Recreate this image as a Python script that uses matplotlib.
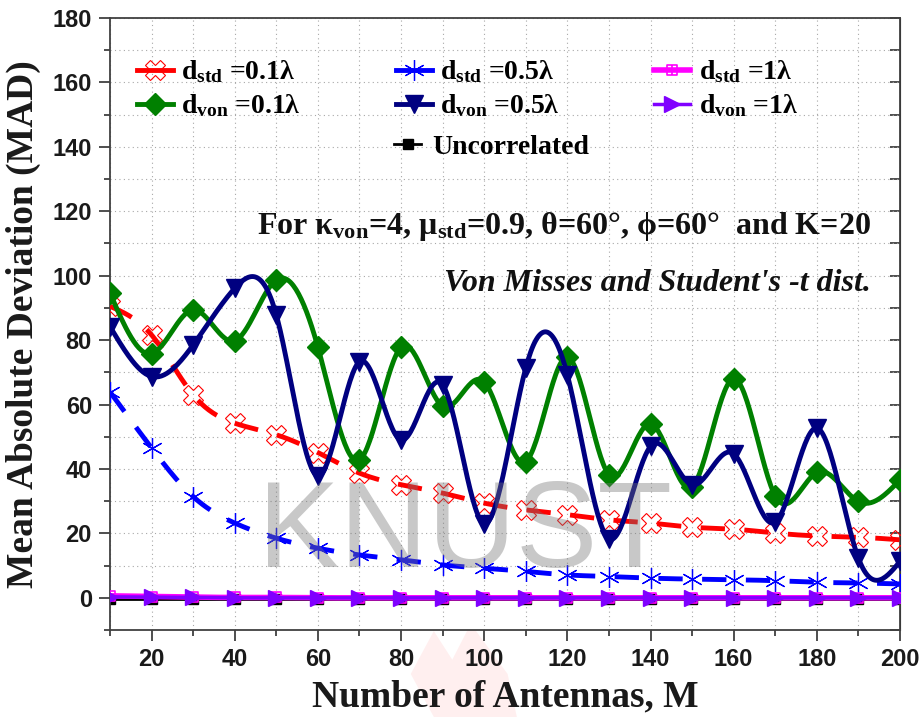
import numpy as np
import matplotlib
matplotlib.use("Agg")
import matplotlib.pyplot as plt
from matplotlib.path import Path
from matplotlib.patches import Polygon

# ===========================
# DATA
# ===========================
M = [10, 20, 30, 40, 50, 60, 70, 80, 90, 100,
     110, 120, 130, 140, 150, 160, 170, 180, 190, 200]

std_01 = [90.5, 81.6, 63.0, 54.2, 50.6, 45.1, 38.7, 35.1, 32.5, 29.4,
          27.3, 25.8, 24.2, 23.2, 21.9, 21.3, 20.1, 19.2, 18.8, 18.0]
std_05 = [63.9, 46.5, 31.4, 23.2, 18.5, 15.4, 13.3, 11.8, 10.2, 9.2,
          8.2, 7.1, 6.6, 6.1, 5.8, 5.6, 5.3, 4.8, 4.6, 4.3]
std_1 = [0.6, 0.4, 0.2, 0.1, 0.1, 0.0, 0.0, 0.0, 0.0, 0.0,
         0.0, 0.0, 0.0, 0.0, 0.0, 0.0, 0.0, 0.0, 0.0, 0.0]
von_01 = [94.6, 75.8, 89.4, 79.8, 98.7, 77.8, 42.8, 77.8, 59.5, 67.0,
          42.3, 74.7, 38.2, 54.0, 34.5, 68.0, 31.6, 38.9, 29.9, 36.6]
von_05 = [84.2, 68.7, 78.5, 96.1, 87.8, 37.9, 73.3, 49.0, 66.1, 23.0,
          71.4, 69.2, 18.3, 47.0, 35.1, 44.7, 23.5, 52.7, 12.3, 11.3]
von_1 = [0.3, 0.2, 0.1, 0.0, 0.0, 0.0, 0.0, 0.0, 0.0, 0.0,
         0.0, 0.0, 0.0, 0.0, 0.0, 0.0, 0.0, 0.0, 0.0, 0.0]
uncorr = [-0.3, -0.3, -0.3, -0.3, -0.3, -0.3, -0.3, -0.3, -0.3, -0.3,
          -0.3, -0.3, -0.3, -0.3, -0.3, -0.3, -0.3, -0.3, -0.3, -0.3]

X_TICKS = [20, 40, 60, 80, 100, 120, 140, 160, 180, 200]
Y_TICKS = [0, 20, 40, 60, 80, 100, 120, 140, 160, 180]

SERIF = ["Liberation Serif", "DejaVu Serif"]
SANS = ["Liberation Sans", "DejaVu Sans"]


def spline(xs, ys, n=600):
    """Natural cubic spline through the markers (Origin-style smooth line)."""
    x = np.asarray(xs, float)
    y = np.asarray(ys, float)
    h = np.diff(x)
    k = len(x)
    A = np.zeros((k, k))
    b = np.zeros(k)
    A[0, 0] = A[-1, -1] = 1.0
    for i in range(1, k - 1):
        A[i, i - 1] = h[i - 1]
        A[i, i] = 2 * (h[i - 1] + h[i])
        A[i, i + 1] = h[i]
        b[i] = 6 * ((y[i + 1] - y[i]) / h[i] - (y[i] - y[i - 1]) / h[i - 1])
    m2 = np.linalg.solve(A, b)
    xf = np.linspace(x[0], x[-1], n)
    idx = np.clip(np.searchsorted(x, xf) - 1, 0, k - 2)
    x0, x1 = x[idx], x[idx + 1]
    hh = x1 - x0
    t0, t1 = x1 - xf, xf - x0
    yf = (m2[idx] * t0**3 + m2[idx + 1] * t1**3) / (6 * hh) \
        + (y[idx] / hh - m2[idx] * hh / 6) * t0 \
        + (y[idx + 1] / hh - m2[idx + 1] * hh / 6) * t1
    return xf, yf


# square-with-cross marker for d_std = 1 lambda
box_plus = Path(
    [(-1, -1), (1, -1), (1, 1), (-1, 1), (-1, -1),
     (0, -1), (0, 1), (-1, 0), (1, 0)],
    [Path.MOVETO, Path.LINETO, Path.LINETO, Path.LINETO, Path.CLOSEPOLY,
     Path.MOVETO, Path.LINETO, Path.MOVETO, Path.LINETO])

plt.rcParams["font.family"] = SERIF
plt.rcParams["font.weight"] = "bold"

fig = plt.figure(figsize=(9.23, 7.17), dpi=100)
ax = fig.add_axes([110 / 923, 1 - 630 / 717, 790 / 923, 612 / 717])


def series(ys, color, ls, lw, marker, ms, mew, label, mfc=None, z=3, dashes=None):
    xf, yf = spline(M, ys)
    kw = {}
    if dashes is not None:
        kw["dashes"] = dashes
    ax.plot(xf, yf, color=color, ls=ls, lw=lw, zorder=z, **kw)
    ax.plot(M, ys, ls="none", marker=marker, ms=ms, mew=mew, color=color,
            mfc=color if mfc is None else mfc, zorder=z + 0.5)
    # proxy for the legend
    h, = ax.plot([], [], color=color, ls="-", lw=lw, marker=marker, ms=ms,
                 mew=mew, mfc=color if mfc is None else mfc, label=label)
    return h


h_unc = series(uncorr, "black", "-", 2.0, "s", 7, 1, "Uncorrelated", z=2)
h_s01 = series(std_01, "#ff0000", "--", 3.5, "X", 15, 0.8,
               r"d$\mathregular{_{std}}$ =0.1λ", mfc="none", dashes=(5, 4))
h_s05 = series(std_05, "#0000ff", "--", 3.5, (6, 2, 0), 15, 0.9,
               r"d$\mathregular{_{std}}$ =0.5λ", dashes=(5, 4))
h_s1 = series(std_1, "#ff00ff", "-", 4.0, box_plus, 7, 1.2,
              r"d$\mathregular{_{std}}$ =1λ", mfc="none", z=3)
h_v01 = series(von_01, "#008000", "-", 3.5, "D", 11, 1,
               r"d$\mathregular{_{von}}$ =0.1λ", z=4)
h_v05 = series(von_05, "#000080", "-", 3.5, "v", 13, 1,
               r"d$\mathregular{_{von}}$ =0.5λ", z=5)
h_v1 = series(von_1, "#8000ff", "-", 2.5, ">", 12, 1,
              r"d$\mathregular{_{von}}$ =1λ", z=4)

ax.set_xlim(10, 200)
ax.set_ylim(-10, 180)
ax.set_xticks(X_TICKS)
ax.set_yticks(Y_TICKS)
ax.set_xticks(np.arange(10, 201, 10), minor=True)
ax.set_yticks(np.arange(-10, 181, 10), minor=True)
ax.grid(True, which="both", ls=(0, (1, 3)), lw=0.8, color="#a8a8a8", zorder=0)
ax.set_axisbelow(True)

for s in ax.spines.values():
    s.set_linewidth(1.3)
    s.set_color("#404040")
ax.tick_params(which="major", direction="out", length=8, width=1.3, color="#404040",
               pad=5, labelsize=17, labelcolor="#1a1a1a")
ax.tick_params(which="minor", direction="out", length=4, width=1.3, color="#404040")
for lab in ax.get_xticklabels() + ax.get_yticklabels():
    lab.set_family(SANS)
    lab.set_weight("bold")

sec = ax.secondary_yaxis("right")
sec.set_yticks(Y_TICKS)
sec.set_yticks(np.arange(-10, 181, 10), minor=True)
sec.tick_params(which="both", direction="in", length=7, width=1.3, color="#404040",
                labelright=False)

ax.set_xlabel("Number of Antennas, M", fontsize=27, fontweight="bold",
              color="#1a1a1a", labelpad=6)
ax.set_ylabel("Mean Absolute Deviation (MAD)", fontsize=27, fontweight="bold",
              color="#1a1a1a", labelpad=8)

leg = ax.legend(handles=[h_s01, h_v01, h_s05, h_v05, h_s1, h_v1],
                ncol=3, loc="upper left", bbox_to_anchor=(0.02, 0.952),
                frameon=False, prop={"family": SERIF, "weight": "bold", "size": 20},
                handlelength=1.3, handletextpad=0.3, columnspacing=3.4,
                labelspacing=0.25, borderaxespad=0)
ax.add_artist(leg)
ax.legend(handles=[h_unc], loc="upper left", bbox_to_anchor=(0.345, 0.828),
          frameon=False, prop={"family": SERIF, "weight": "bold", "size": 20},
          handlelength=1.0, handletextpad=0.4, borderaxespad=0)

ax.text(193, 115.2,
        r"For κ$\mathregular{_{von}}$=4, μ$\mathregular{_{std}}$=0.9, θ=60°, ϕ=60°  and K=20",
        ha="right", va="center", fontsize=23, fontweight="bold", color="#111111",
        family=SERIF)
ax.text(193, 97.5, "Von Misses and Student's -t dist.", ha="right", va="center",
        fontsize=23, fontweight="bold", style="italic", color="#111111", family=SERIF)

# watermark
ax.text(95.5, 19.5, "KNUST", ha="center", va="center", fontsize=88,
        family=SANS, fontweight="normal", color="#767676", alpha=0.4, zorder=10)
fig.patches.append(Polygon(
    [(0.47, 0.0), (0.445, 0.06), (0.47, 0.12), (0.49, 0.08), (0.51, 0.13),
     (0.55, 0.06), (0.56, 0.0)],
    closed=True, transform=fig.transFigure, facecolor="#ff8080", alpha=0.12,
    edgecolor="none", zorder=-1))

fig.savefig("out.png", dpi=100)
